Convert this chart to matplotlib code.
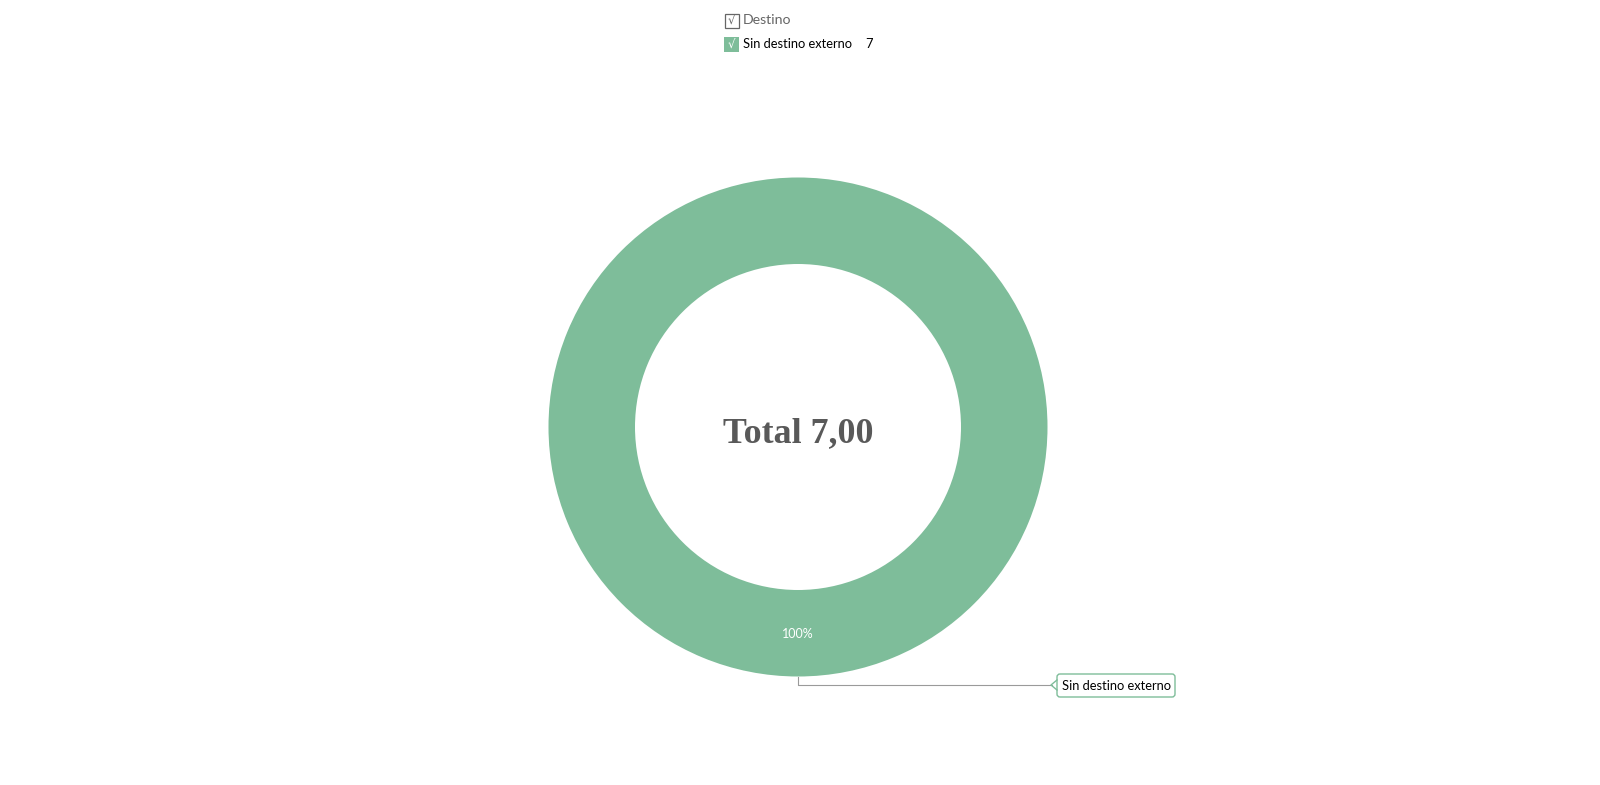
import matplotlib
matplotlib.use("Agg")
import matplotlib.pyplot as plt
from matplotlib.patches import FancyBboxPatch, Rectangle

categories = ["Sin destino externo"]
values = [7]
legend_title = "Destino"
colors = ["#7EBD9A"]

W, H = 1600, 785
fig = plt.figure(figsize=(16, 7.85), dpi=100)
ax = fig.add_axes([0, 0, 1, 1])
ax.set_xlim(0, W)
ax.set_ylim(H, 0)
ax.set_aspect("equal")
ax.axis("off")

cx, cy = 798, 427
R = 249.5
wedges, _ = ax.pie(values, colors=colors, radius=R, center=(cx, cy),
                   startangle=90, counterclock=False,
                   wedgeprops=dict(width=R - 163, linewidth=0))
ax.set_xlim(0, W)
ax.set_ylim(H, 0)

total = sum(values)
ax.text(cx, cy + 6.5, f"Total {total:.2f}".replace(".", ","), ha="center", va="center",
        fontsize=25.8, fontweight="bold", family="Liberation Serif", color="#595959")

pct = values[0] / total * 100
ax.text(cx, 634, f"{pct:.0f}%", ha="center", va="center", fontsize=9,
        family="Lato", color="white")

# leader line
ax.plot([cx, cx, 1052], [cy + R, 685, 685], color="#9a9a9a", lw=0.8)
box = FancyBboxPatch((1057, 674), 118, 23, boxstyle="round,pad=0,rounding_size=3",
                     fc="white", ec="#7EBD9A", lw=1)
ax.add_patch(box)
ax.plot([1057, 1051, 1057], [680, 685, 690], color="#7EBD9A", lw=1)
ax.text(1116, 685.5, categories[0], ha="center", va="center", fontsize=9.3,
        family="Lato", color="black")

# legend
ax.add_patch(Rectangle((724.5, 13.5), 14, 14, fc="white", ec="#666666", lw=0.9))
ax.text(731.5, 21, "\u221a", ha="center", va="center", fontsize=8.5, color="#666666",
        family="DejaVu Sans")
ax.text(743, 20, legend_title, ha="left", va="center", fontsize=10.2,
        family="Lato", color="#666666")
ax.add_patch(Rectangle((724, 37), 15, 15, fc=colors[0], ec="none"))
ax.text(731.5, 45.5, "\u221a", ha="center", va="center", fontsize=8.5, color="white",
        family="DejaVu Sans")
ax.text(743, 44.5, categories[0], ha="left", va="center", fontsize=9.3,
        family="Lato", color="black")
ax.text(865, 44.5, str(values[0]), ha="left", va="center", fontsize=9.3,
        family="Lato", color="black")

fig.savefig("out.png", dpi=100)
